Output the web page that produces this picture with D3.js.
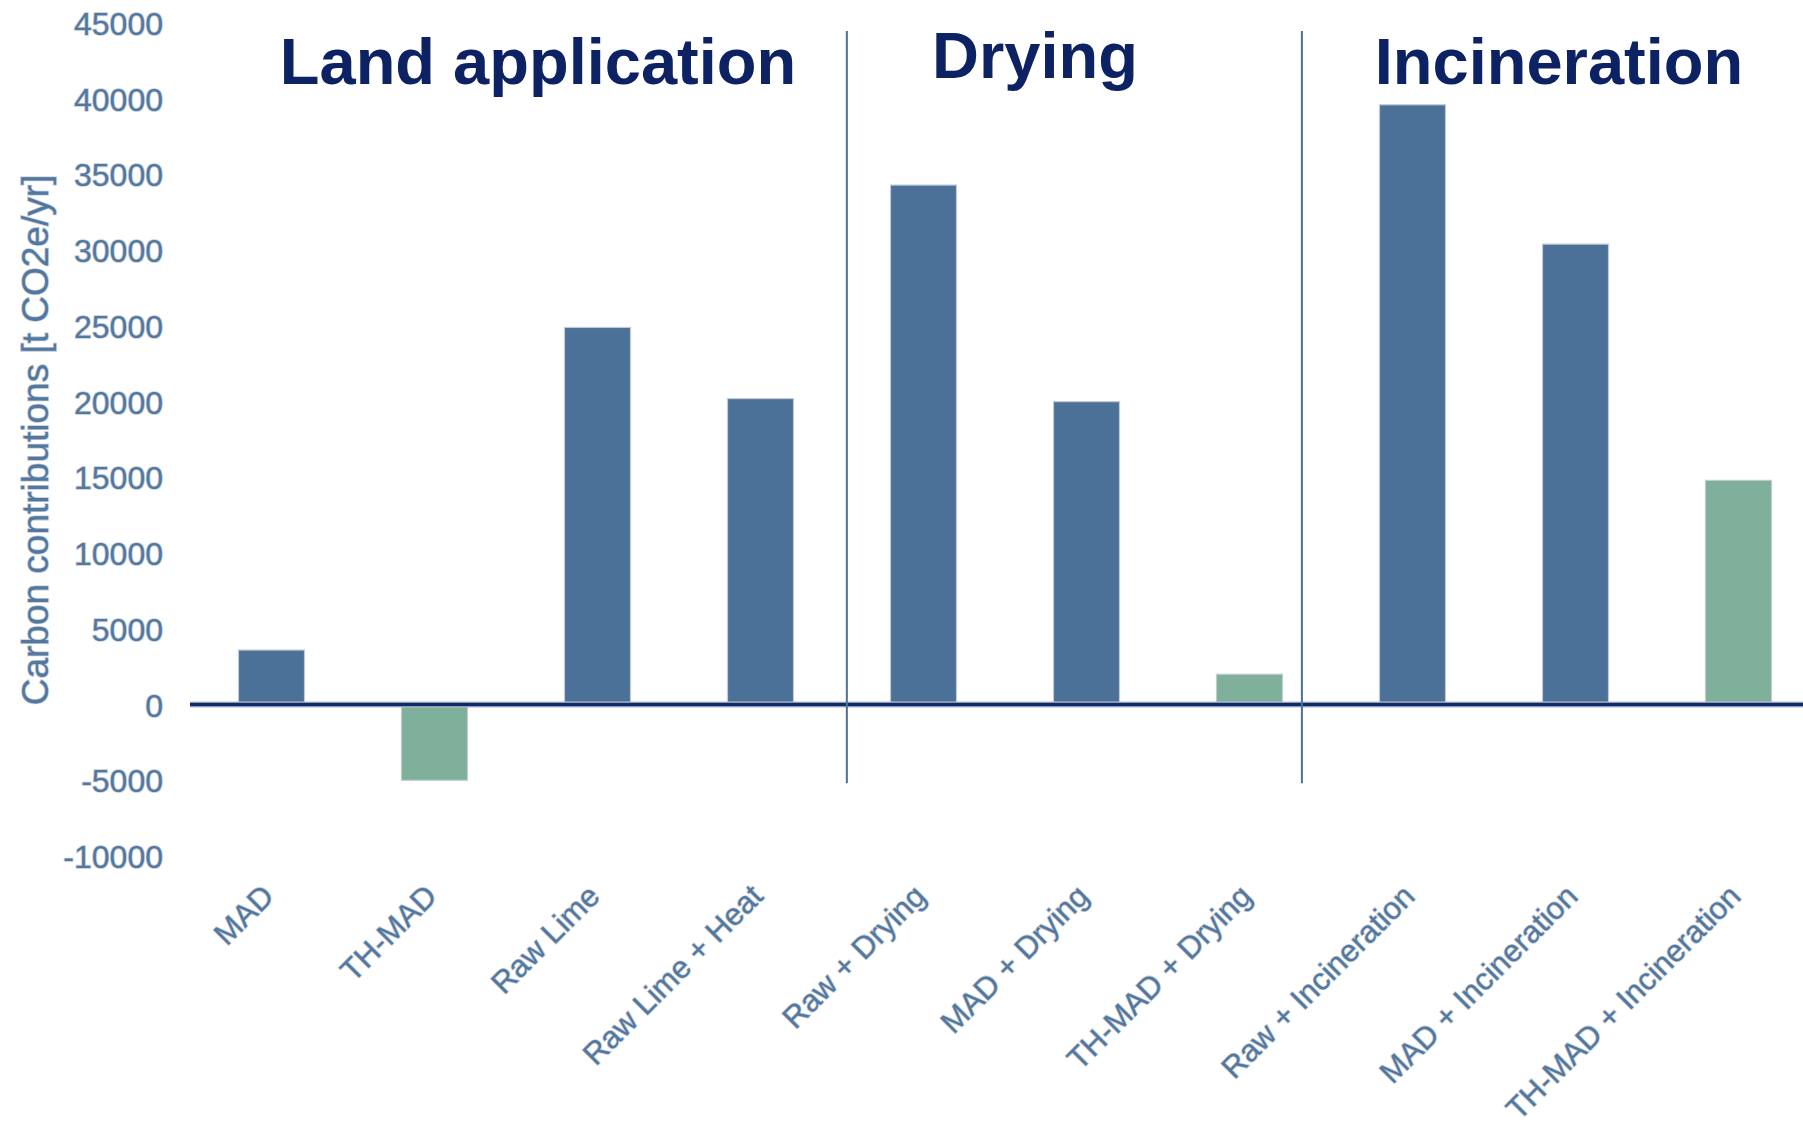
<!DOCTYPE html>
<html>
<head>
<meta charset="utf-8">
<script src="https://cdn.jsdelivr.net/npm/d3@7/dist/d3.min.js"></script>
<style>
  html, body { margin: 0; padding: 0; background: #ffffff; }
  svg { display: block; }
  .tick-label, .cat-label, .y-title {
    font-family: "Liberation Sans", Arial, sans-serif;
    fill: #52789f;
    stroke: #c7ced8;
    stroke-width: 1.6px;
    paint-order: stroke;
  }
  .group-title {
    font-family: "Liberation Sans", Arial, sans-serif;
    font-weight: bold;
    fill: #0c2262;
  }
</style>
</head>
<body>
<svg id="chart" width="1803" height="1125"></svg>
<script>
// Sludge treatment routes and their net carbon contributions [t CO2e/yr]
const categories = [
  "MAD", "TH-MAD", "Raw Lime", "Raw Lime + Heat",
  "Raw + Drying", "MAD + Drying", "TH-MAD + Drying",
  "Raw + Incineration", "MAD + Incineration", "TH-MAD + Incineration"
];
const values = [3600, -5000, 24900, 20200, 34300, 20000, 2000, 39600, 30400, 14800];
// Thermal-hydrolysis routes are highlighted in green
const highlighted = [false, true, false, false, false, false, true, false, false, true];

const yTicks = [-10000, -5000, 0, 5000, 10000, 15000, 20000, 25000, 30000, 35000, 40000, 45000];

const groupNames = ["Land application", "Drying", "Incineration"];
const groupStarts = [0, 4, 7];   // index of the first category in each group
const groupEnds = [3, 6, 9];     // index of the last category in each group

const svg = d3.select("#chart");

const x = d3.scaleBand()
  .domain(categories)
  .range([190, 1820])
  .paddingInner(0.595)
  .paddingOuter(0.2975);

const y = d3.scaleLinear()
  .domain([-10000, 45000])
  .range([856, 23]);

const blue = "#4c7199";
const green = "#7fb09c";

// Bars
svg.append("g")
  .selectAll("rect")
  .data(categories)
  .join("rect")
  .attr("x", d => x(d))
  .attr("width", x.bandwidth())
  .attr("y", (d, i) => y(Math.max(0, values[i])))
  .attr("height", (d, i) => Math.abs(y(values[i]) - y(0)))
  .attr("fill", (d, i) => highlighted[i] ? green : blue)
  .attr("stroke", "#c3cad2")
  .attr("stroke-width", 1.2);

// Zero baseline
const zeroG = svg.append("g");
zeroG.append("line")
  .attr("x1", x.range()[0]).attr("x2", x.range()[1])
  .attr("y1", y(0)).attr("y2", y(0))
  .attr("stroke", "#b9c0c8").attr("stroke-width", 6);
zeroG.append("line")
  .attr("x1", x.range()[0]).attr("x2", x.range()[1])
  .attr("y1", y(0)).attr("y2", y(0))
  .attr("stroke", "#0c2a6c").attr("stroke-width", 3.5);

// Y axis: labels only, no domain line or tick marks; plain hyphen for negatives
const yAxis = d3.axisLeft(y).tickValues(yTicks).tickSize(0).tickPadding(0).tickFormat(d => String(d));
const yG = svg.append("g").attr("transform", "translate(163,0)").call(yAxis);
yG.select(".domain").remove();
yG.selectAll("text")
  .attr("class", "tick-label")
  .attr("font-size", 32)
  .attr("dy", "0.36em")
  .attr("x", 0);

svg.append("text")
  .attr("class", "y-title")
  .attr("transform", "translate(48,440) rotate(-90)")
  .attr("text-anchor", "middle")
  .attr("font-size", 37)
  .text("Carbon contributions [t CO2e/yr]");

// Category labels, rotated
const xAxis = d3.axisBottom(x).tickSize(0).tickPadding(0);
const xG = svg.append("g").attr("transform", "translate(0,898)").call(xAxis);
xG.select(".domain").remove();
xG.selectAll("text")
  .attr("class", "cat-label")
  .attr("font-size", 31)
  .attr("text-anchor", "end")
  .attr("dy", 0)
  .attr("y", 0)
  .attr("transform", "translate(4,0) rotate(-45)");

// Group dividers and headings
const dividerShift = [0.55, 0.2];
for (let g = 1; g < groupNames.length; g++) {
  const leftEdge = x(categories[groupEnds[g - 1]]) + x.bandwidth();
  const rightEdge = x(categories[groupStarts[g]]);
  const xd = leftEdge + (rightEdge - leftEdge) * dividerShift[g - 1];
  svg.append("line")
    .attr("x1", xd).attr("x2", xd)
    .attr("y1", 31).attr("y2", y(-5200))
    .attr("stroke", "#4f6f94").attr("stroke-width", 2);
}

const titleCenters = [538, 1035, 1559];
const titleBaselines = [84, 78, 84];
groupNames.forEach((name, g) => {
  svg.append("text")
    .attr("class", "group-title")
    .attr("x", titleCenters[g])
    .attr("y", titleBaselines[g])
    .attr("text-anchor", "middle")
    .attr("font-size", 65)
    .text(name);
});
</script>
</body>
</html>
